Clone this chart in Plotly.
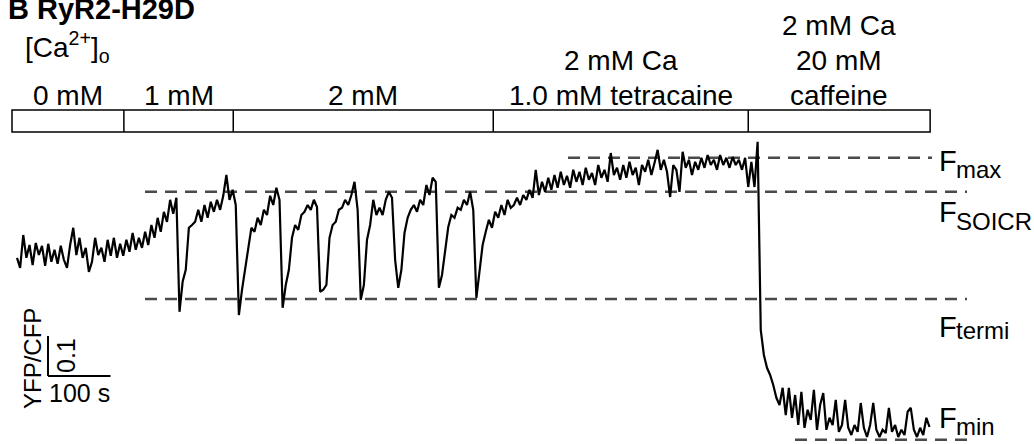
import plotly.graph_objects as go

# ---------------- data ----------------
SAMPLE_INTERVAL_S = 5  # one ratio sample every 5 s

ratio = [
    1.103, 1.078, 1.160, 1.103, 1.135, 1.085, 1.140, 1.110, 1.133, 1.083,
    1.138, 1.093, 1.123, 1.088, 1.133, 1.098, 1.078, 1.135, 1.178, 1.110,
    1.153, 1.103, 1.128, 1.068, 1.093, 1.153, 1.110, 1.128, 1.093, 1.148,
    1.108, 1.153, 1.103, 1.138, 1.108, 1.148, 1.118, 1.165, 1.123, 1.153,
    1.128, 1.168, 1.135, 1.185, 1.153, 1.203, 1.168, 1.218, 1.193, 1.248,
    1.213, 1.253, 0.968, 1.043, 1.073, 1.178, 1.185, 1.193, 1.223, 1.193,
    1.235, 1.203, 1.243, 1.218, 1.248, 1.223, 1.258, 1.310, 1.248, 1.273,
    1.235, 0.960, 1.023, 1.073, 1.130, 1.178, 1.168, 1.203, 1.185, 1.223,
    1.210, 1.258, 1.235, 1.278, 1.248, 0.978, 1.035, 1.073, 1.153, 1.185,
    1.173, 1.210, 1.218, 1.235, 1.223, 1.248, 1.230, 1.018, 1.023, 1.035,
    1.153, 1.185, 1.193, 1.223, 1.228, 1.248, 1.235, 1.260, 1.293, 1.223,
    0.998, 1.035, 1.148, 1.185, 1.248, 1.210, 1.228, 1.210, 1.248, 1.268,
    1.253, 1.098, 1.028, 1.073, 1.165, 1.203, 1.223, 1.235, 1.218, 1.248,
    1.235, 1.285, 1.260, 1.303, 1.293, 1.028, 1.060, 1.123, 1.180, 1.210,
    1.203, 1.228, 1.223, 1.248, 1.235, 1.268, 1.223, 1.003, 1.068, 1.135,
    1.168, 1.198, 1.178, 1.218, 1.203, 1.235, 1.210, 1.248, 1.228, 1.235,
    1.253, 1.235, 1.260, 1.248, 1.273, 1.253, 1.323, 1.260, 1.293, 1.268,
    1.303, 1.273, 1.310, 1.278, 1.318, 1.285, 1.308, 1.278, 1.323, 1.293,
    1.318, 1.285, 1.328, 1.298, 1.315, 1.285, 1.335, 1.303, 1.323, 1.293,
    1.365, 1.310, 1.328, 1.298, 1.335, 1.303, 1.343, 1.310, 1.328, 1.285,
    1.335, 1.318, 1.348, 1.310, 1.340, 1.373, 1.323, 1.348, 1.318, 1.255,
    1.335, 1.323, 1.268, 1.368, 1.328, 1.348, 1.310, 1.343, 1.323, 1.353,
    1.328, 1.360, 1.335, 1.348, 1.323, 1.360, 1.335, 1.353, 1.328, 1.355,
    1.335, 1.348, 1.323, 1.353, 1.280, 1.343, 1.280, 1.393, 0.923, 0.860,
    0.828, 0.810, 0.785, 0.753, 0.735, 0.778, 0.710, 0.778, 0.703, 0.760,
    0.685, 0.768, 0.678, 0.723, 0.698, 0.773, 0.673, 0.735, 0.765, 0.673,
    0.703, 0.685, 0.748, 0.668, 0.685, 0.748, 0.678, 0.660, 0.685, 0.668,
    0.740, 0.678, 0.655, 0.685, 0.740, 0.673, 0.655, 0.673, 0.665, 0.728,
    0.668, 0.685, 0.655, 0.673, 0.660, 0.718, 0.728, 0.673, 0.655, 0.678,
    0.660, 0.703, 0.680,
]
time_s = [i * SAMPLE_INTERVAL_S for i in range(len(ratio))]

solution_labels = [
    "0 mM",
    "1 mM",
    "2 mM",
    "2 mM Ca<br>1.0 mM tetracaine",
    "2 mM Ca<br>20 mM<br>caffeine",
]
solution_bounds_s = [-8, 171, 346, 762, 1170, 1461]

level_names = ["max", "SOICR", "termi", "min"]
level_values = [1.353, 1.268, 1.000, 0.648]

scale_time_s = 100
scale_ratio = 0.1

# ---------------- layout geometry ----------------
W, H = 1034, 444
ORIGIN_PX = 17       # pixel column of t = 0
S_PER_PX = 1.6       # seconds per pixel
REF_PY = 299         # pixel row of ratio = 1.0
R_PER_PX = 0.0025    # ratio units per pixel


def tx(px):
    return (px - ORIGIN_PX) * S_PER_PX


def ry(py):
    return 1.0 + (REF_PY - py) * R_PER_PX


FONT = "Liberation Sans, Arial, sans-serif"

fig = go.Figure()
fig.add_trace(go.Scatter(
    x=time_s, y=ratio, mode="lines",
    line=dict(color="black", width=2.2),
    hoverinfo="skip", showlegend=False,
))

shapes = []
annotations = []

# dashed reference levels
level_extent_px = [(568, 932), (145, 967), (145, 967), (795, 970)]
for val, (a, b) in zip(level_values, level_extent_px):
    shapes.append(dict(type="line", xref="x", yref="y", x0=tx(a), x1=tx(b),
                       y0=val, y1=val, layer="below",
                       line=dict(color="#4a4a4a", width=2.4, dash="12px,8px")))

# level labels
level_label_py = [161, 212, 327, 418]
sub_label_dy = [8, 9, 3, 8]
for name, py, dy in zip(level_names, level_label_py, sub_label_dy):
    annotations.append(dict(text="F", x=tx(937), y=ry(py), xref="x", yref="y",
                            xanchor="left", yanchor="middle", showarrow=False,
                            font=dict(family=FONT, size=29, color="black")))
    annotations.append(dict(text=name, x=tx(954), y=ry(py + dy), xref="x", yref="y",
                            xanchor="left", yanchor="middle", showarrow=False,
                            font=dict(family=FONT, size=24, color="black")))

# solution bar
bar_top, bar_bot = ry(110), ry(132)
shapes.append(dict(type="rect", xref="x", yref="y",
                   x0=solution_bounds_s[0], x1=solution_bounds_s[-1],
                   y0=bar_bot, y1=bar_top, line=dict(color="black", width=1.5)))
for b in solution_bounds_s[1:-1]:
    shapes.append(dict(type="line", xref="x", yref="y", x0=b, x1=b,
                       y0=bar_bot, y1=bar_top, line=dict(color="black", width=1.5)))

row_py = [95, 60, 25]  # bottom row first
for i, lab in enumerate(solution_labels):
    cx = (solution_bounds_s[i] + solution_bounds_s[i + 1]) / 2
    lines = lab.split("<br>")
    for j, line in enumerate(reversed(lines)):
        annotations.append(dict(text=line, x=cx, y=ry(row_py[j]), xref="x", yref="y",
                                xanchor="center", yanchor="middle", showarrow=False,
                                font=dict(family=FONT, size=28, color="black")))

annotations.append(dict(text="[Ca<sup>2+</sup>]<sub>o</sub>", x=tx(23), y=ry(47),
                        xref="x", yref="y", xanchor="left", yanchor="middle",
                        showarrow=False, font=dict(family=FONT, size=28, color="black")))

annotations.append(dict(text="<b>B RyR2-H29D</b>", x=6 / W, y=1 - 9.5 / H,
                        xref="paper", yref="paper", xanchor="left", yanchor="middle",
                        showarrow=False, font=dict(family=FONT, size=29, color="black")))

# scale bar
sx0, sy0 = tx(48), ry(376)
shapes.append(dict(type="line", xref="x", yref="y", x0=sx0, x1=sx0,
                   y0=sy0, y1=sy0 + scale_ratio, line=dict(color="black", width=2)))
shapes.append(dict(type="line", xref="x", yref="y", x0=sx0, x1=sx0 + scale_time_s,
                   y0=sy0, y1=sy0, line=dict(color="black", width=2)))
annotations.append(dict(text=f"{scale_time_s} s", x=sx0 + scale_time_s / 2, y=ry(393),
                        xref="x", yref="y", xanchor="center", yanchor="middle",
                        showarrow=False, font=dict(family=FONT, size=25, color="black")))
annotations.append(dict(text=f"{scale_ratio}", x=tx(66), y=sy0 + scale_ratio / 2,
                        xref="x", yref="y", xanchor="center", yanchor="middle",
                        textangle=-90, showarrow=False,
                        font=dict(family=FONT, size=25, color="black")))
annotations.append(dict(text="YFP/CFP", x=tx(32), y=ry(359),
                        xref="x", yref="y", xanchor="center", yanchor="middle",
                        textangle=-90, showarrow=False,
                        font=dict(family=FONT, size=24, color="black")))

fig.update_layout(
    width=W, height=H,
    margin=dict(l=0, r=0, t=0, b=0),
    paper_bgcolor="white", plot_bgcolor="white",
    xaxis=dict(range=[tx(0), tx(W)], visible=False, fixedrange=True),
    yaxis=dict(range=[ry(H), ry(0)], visible=False, fixedrange=True),
    shapes=shapes, annotations=annotations,
    showlegend=False,
)

# remove the page's default body margin so the figure sits at the window's corner
fig.write_html("out.html",
               config={"displayModeBar": False, "staticPlot": True},
               post_script="document.body.style.margin='0';"
                           "document.body.style.overflow='hidden';")
